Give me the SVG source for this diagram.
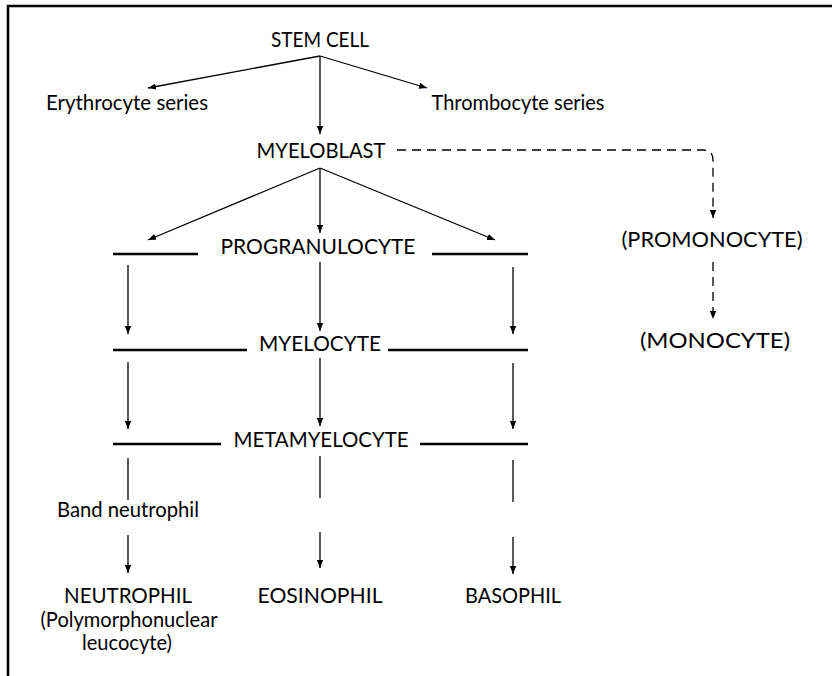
<svg xmlns="http://www.w3.org/2000/svg" width="832" height="676" viewBox="0 0 832 676">
  <defs>
    <marker id="arrow" viewBox="0 0 8 8" refX="8" refY="4" markerWidth="8" markerHeight="8" markerUnits="userSpaceOnUse" orient="auto">
      <path d="M0,0.8 L8,4 L0,7.2 Z" fill="#000"/>
    </marker>
    <style>
      text { font-family: "Lato", "Open Sans", "Liberation Sans", sans-serif; font-size: 20.8px; fill: #000; text-anchor: middle; }
      .frame { stroke: #000; stroke-width: 2.5; fill: none; }
      .edge { stroke: #000; stroke-width: 1.3; fill: none; }
      .arr { marker-end: url(#arrow); }
      .dash { stroke-dasharray: 9 6; }
      .bar { stroke: #000; stroke-width: 2.6; fill: none; }
    </style>
  </defs>
  <rect width="832" height="676" fill="#fff"/>

  <!-- frame (top and left edges) -->
  <path class="frame" d="M832,6 L8,6 L8,676"/>

  <!-- nodes -->
  <g id="stem-cell"><text x="320" y="47" textLength="98" lengthAdjust="spacingAndGlyphs">STEM CELL</text></g>
  <g id="erythrocyte-series"><text x="127" y="110" textLength="162" lengthAdjust="spacingAndGlyphs">Erythrocyte series</text></g>
  <g id="thrombocyte-series"><text x="518" y="110" textLength="173" lengthAdjust="spacingAndGlyphs">Thrombocyte series</text></g>
  <g id="myeloblast"><text x="321" y="158" textLength="129" lengthAdjust="spacingAndGlyphs">MYELOBLAST</text></g>
  <g id="promonocyte"><text x="712" y="247" textLength="181" lengthAdjust="spacingAndGlyphs">(PROMONOCYTE)</text></g>
  <g id="monocyte"><text x="715" y="348" textLength="150" lengthAdjust="spacingAndGlyphs">(MONOCYTE)</text></g>

  <g id="progranulocyte">
    <text x="318" y="254" textLength="195" lengthAdjust="spacingAndGlyphs">PROGRANULOCYTE</text>
    <line class="bar" x1="113" y1="254" x2="198" y2="254"/>
    <line class="bar" x1="432" y1="254" x2="528" y2="254"/>
  </g>
  <g id="myelocyte">
    <text x="320" y="351" textLength="122" lengthAdjust="spacingAndGlyphs">MYELOCYTE</text>
    <line class="bar" x1="113" y1="350" x2="247" y2="350"/>
    <line class="bar" x1="388" y1="350" x2="528" y2="350"/>
  </g>
  <g id="metamyelocyte">
    <text x="321" y="447" textLength="175" lengthAdjust="spacingAndGlyphs">METAMYELOCYTE</text>
    <line class="bar" x1="113" y1="444" x2="221" y2="444"/>
    <line class="bar" x1="420" y1="444" x2="528" y2="444"/>
  </g>
  <g id="band-neutrophil"><text x="128" y="517" textLength="142" lengthAdjust="spacingAndGlyphs">Band neutrophil</text></g>
  <g id="neutrophil">
    <text x="128" y="603" textLength="128" lengthAdjust="spacingAndGlyphs">NEUTROPHIL</text>
    <text x="129" y="627" textLength="177" lengthAdjust="spacingAndGlyphs">(Polymorphonuclear</text>
    <text x="127" y="650" textLength="90" lengthAdjust="spacingAndGlyphs">leucocyte)</text>
  </g>
  <g id="eosinophil"><text x="320" y="603" textLength="125" lengthAdjust="spacingAndGlyphs">EOSINOPHIL</text></g>
  <g id="basophil"><text x="513" y="603" textLength="96" lengthAdjust="spacingAndGlyphs">BASOPHIL</text></g>

  <!-- connectors -->
  <g id="connectors">
    <line class="edge arr" x1="320" y1="56" x2="148" y2="88"/>
    <line class="edge arr" x1="320" y1="56" x2="427" y2="88"/>
    <line class="edge arr" x1="320" y1="56" x2="320" y2="134"/>

    <line class="edge arr" x1="320" y1="168" x2="148" y2="240"/>
    <line class="edge arr" x1="320" y1="168" x2="320" y2="233"/>
    <line class="edge arr" x1="320" y1="168" x2="495" y2="240"/>

    <path class="edge arr dash" d="M397,150 L703,150 Q713,150 713,160 L713,218"/>
    <line class="edge arr dash" x1="713" y1="262" x2="713" y2="319"/>

    <line class="edge arr" x1="128" y1="265" x2="128" y2="334"/>
    <line class="edge arr" x1="320" y1="262" x2="320" y2="331"/>
    <line class="edge arr" x1="513" y1="267" x2="513" y2="334"/>

    <line class="edge arr" x1="128" y1="362" x2="128" y2="429"/>
    <line class="edge arr" x1="320" y1="358" x2="320" y2="426"/>
    <line class="edge arr" x1="513" y1="363" x2="513" y2="429"/>

    <line class="edge" x1="128" y1="458" x2="128" y2="500"/>
    <line class="edge" x1="320" y1="456" x2="320" y2="498"/>
    <line class="edge" x1="513" y1="460" x2="513" y2="502"/>

    <line class="edge arr" x1="128" y1="535" x2="128" y2="573"/>
    <line class="edge arr" x1="320" y1="532" x2="320" y2="568"/>
    <line class="edge arr" x1="513" y1="537" x2="513" y2="574"/>
  </g>
</svg>
